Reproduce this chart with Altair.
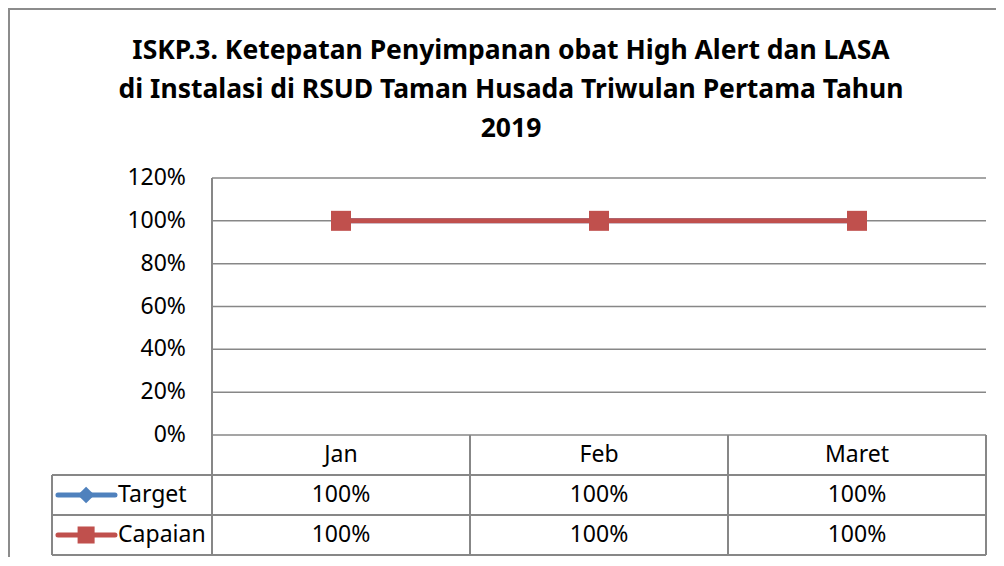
import altair as alt
import pandas as pd

# ---------------- data ----------------
categories = ["Jan", "Feb", "Maret"]
target = [1.0, 1.0, 1.0]
capaian = [1.0, 1.0, 1.0]
series_names = ["Target", "Capaian"]
series_colors = ["#4F81BD", "#C0504D"]
series_shapes = ["diamond", "square"]
y_ticks = [0.0, 0.2, 0.4, 0.6, 0.8, 1.0, 1.2]
title_lines = [
    "ISKP.3. Ketepatan Penyimpanan obat High Alert dan LASA",
    "di Instalasi di RSUD Taman Husada Triwulan Pertama Tahun",
    "2019",
]

# ---------------- layout (style) ----------------
W, H = 934, 377
PAD = {"left": 44, "top": 170, "right": 10, "bottom": 2}
LEG_W = 160 / 258          # legend column width in category units
Y_MAX = 1.2
ROW_H = (40 / 257) * Y_MAX  # table row height in value units
Y_MIN = -3 * ROW_H
N = len(categories)
FONT = "Noto Sans"
GRID = "#878787"
FS = 23

xs = alt.Scale(domain=[-LEG_W, N], nice=False, zero=False)
ys = alt.Scale(domain=[Y_MIN, Y_MAX], nice=False, zero=False)
X = lambda f: alt.X(f, type="quantitative", scale=xs, axis=None)
Y = lambda f: alt.Y(f, type="quantitative", scale=ys, axis=None)

values = {"Target": target, "Capaian": capaian}
rows = []
for j, s in enumerate(series_names):
    for i, c in enumerate(categories):
        rows.append({"series": s, "cat": c, "x": i + 0.5, "value": values[s][i],
                     "row_y": -(1.5 + j) * ROW_H})
df = pd.DataFrame(rows)

base = alt.Chart(df)

# grid lines
grid_df = pd.DataFrame({"y": y_ticks, "x0": 0, "x1": N})
grid = alt.Chart(grid_df).mark_rule(color=GRID, strokeWidth=1.5).encode(
    x=X("x0"), x2="x1", y=Y("y"))

# y labels
ylab = alt.Chart(grid_df).mark_text(align="right", baseline="middle", dx=-26,
                                    fontSize=FS, font=FONT, color="black").encode(
    x=X("x0"), y=Y("y"), text=alt.Text("y:Q", format=".0%"))

# table lines
h_lines = pd.DataFrame({
    "y": [-ROW_H, -2 * ROW_H, -3 * ROW_H],
    "x0": [-LEG_W] * 3, "x1": [N] * 3})
v_lines = pd.DataFrame({
    "x": [0] + list(range(1, N + 1)) + [-LEG_W],
    "y0": [Y_MAX] + [0] * N + [-ROW_H],
    "y1": [Y_MIN] * (N + 2)})
hl = alt.Chart(h_lines).mark_rule(color=GRID, strokeWidth=2).encode(
    x=X("x0"), x2="x1", y=Y("y"))
vl = alt.Chart(v_lines).mark_rule(color=GRID, strokeWidth=2).encode(
    x=X("x"), y=Y("y0"), y2="y1")

# category header
cat_df = pd.DataFrame({"cat": categories, "x": [i + 0.5 for i in range(N)],
                       "y": -ROW_H / 2})
cat_text = alt.Chart(cat_df).mark_text(baseline="middle", fontSize=FS, font=FONT,
                                       color="black").encode(
    x=X("x"), y=Y("y"), text="cat:N")

# table values
val_text = base.mark_text(baseline="middle", fontSize=FS, font=FONT,
                          color="black").encode(
    x=X("x"), y=Y("row_y"), text=alt.Text("value:Q", format=".0%"))

# series lines + markers (target first, capaian on top)
layers = []
leg_rows = []
for j, s in enumerate(series_names):
    sub = base.transform_filter(alt.datum.series == s)
    layers.append(sub.mark_line(color=series_colors[j], strokeWidth=5).encode(
        x=X("x"), y=Y("value")))
    layers.append(sub.mark_point(color=series_colors[j], filled=True, opacity=1,
                                 shape=series_shapes[j],
                                 size=400 if series_shapes[j] == "square" else 330).encode(
        x=X("x"), y=Y("value")))
    leg_rows.append({"series": s, "y": -(1.5 + j) * ROW_H,
                     "lx0": -0.597, "lx1": -0.376, "mx": -0.488, "tx": -0.364})
leg_df = pd.DataFrame(leg_rows)

leg_layers = []
for j, s in enumerate(series_names):
    sub = alt.Chart(leg_df).transform_filter(alt.datum.series == s)
    leg_layers.append(sub.mark_rule(color=series_colors[j], strokeWidth=5,
                                    strokeCap="round").encode(
        x=X("lx0"), x2="lx1", y=Y("y")))
    leg_layers.append(sub.mark_point(color=series_colors[j], filled=True, opacity=1,
                                     shape=series_shapes[j],
                                     size=290 if series_shapes[j] == "square" else 280).encode(
        x=X("mx"), y=Y("y")))
    leg_layers.append(sub.mark_text(align="left", baseline="middle", fontSize=FS,
                                    font=FONT, color="black").encode(
        x=X("tx"), y=Y("y"), text="series:N"))

# title (real text, multi-line)
title_df = pd.DataFrame({"t": [title_lines]})
title = alt.Chart(title_df).mark_text(
    font=FONT, fontSize=26.5, fontWeight="bold", color="black", align="center",
    baseline="alphabetic", lineHeight=39).encode(
    x=alt.value(459), y=alt.value(-119), text="t")

# outer frame
frame_df = pd.DataFrame({"a": [0]})
frame_top = alt.Chart(frame_df).mark_rule(color="#8c8c8c", strokeWidth=2).encode(
    x=alt.value(-44), x2=alt.value(W + PAD["right"]), y=alt.value(-169))
frame_left = alt.Chart(frame_df).mark_rule(color="#8c8c8c", strokeWidth=2).encode(
    x=alt.value(-43), y=alt.value(-170), y2=alt.value(H + PAD["bottom"]))

chart = alt.layer(
    frame_top, frame_left, grid, hl, vl, ylab, cat_text, val_text,
    *leg_layers, *layers, title
).properties(
    width=W, height=H,
    autosize=alt.AutoSizeParams(type="none"),
    padding=PAD,
    background="white",
).configure_view(stroke=None)

chart.save("out.html", embed_options={"renderer": "svg", "actions": False})
